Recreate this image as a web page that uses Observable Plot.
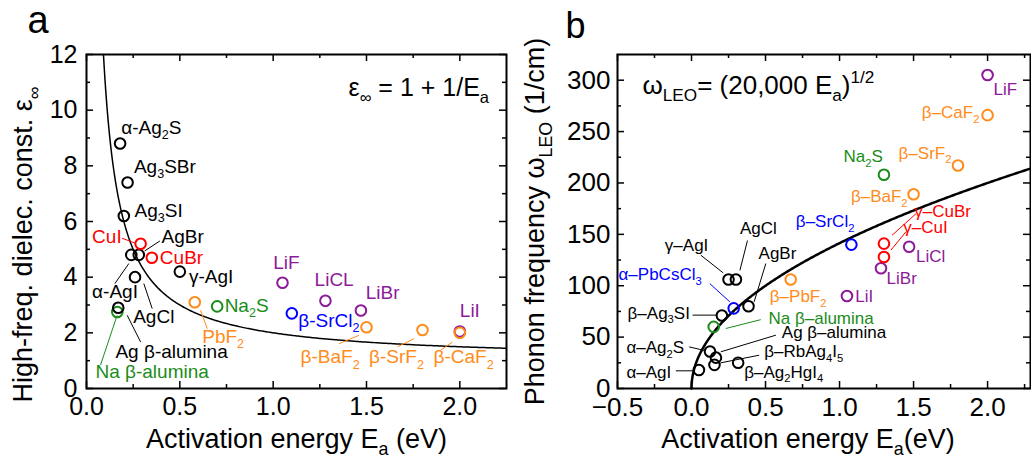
<!DOCTYPE html>
<html>
<head>
<meta charset="utf-8">
<script src="https://cdn.jsdelivr.net/npm/d3@7"></script>
<script src="https://cdn.jsdelivr.net/npm/@observablehq/plot@0.6"></script>
<style>
  html, body { margin: 0; padding: 0; background: white; }
  #wrap { position: relative; width: 1031px; height: 461px; overflow: hidden; background: white; }
  #pa { position: absolute; left: 0; top: 0; }
  #pb { position: absolute; left: 510px; top: 0; }
</style>
</head>
<body>
<div id="wrap"><div id="pa"></div><div id="pb"></div></div>
<script>
// ---------- groups / colours ----------
const groups = ["Ag", "Cu", "Na", "F", "Cl", "Li"];
const groupColors = ["#000000", "#ff0000", "#1a8c1a", "#ff8c1a", "#0000ff", "#8c1a99"];

// ---------- panel a data ----------
const matA = ["α-Ag_2S","Ag_3SBr","Ag_3SI","α-AgI","AgBr","AgCl","γ-AgI","Na β-alumina","Ag β-alumina","CuI","CuBr","Na_2S","PbF_2","β-BaF_2","β-SrF_2","LiI","β-CaF_2","β-SrCl_2","LiF","LiCL","LiBr"];
const eaA  = [0.18, 0.22, 0.20, 0.24, 0.28, 0.26, 0.50, 0.165, 0.17, 0.29, 0.35, 0.70, 0.58, 1.50, 1.80, 2.00, 2.00, 1.10, 1.05, 1.28, 1.47];
const epsA = [8.8, 7.4, 6.2, 4.8, 4.8, 4.0, 4.2, 2.75, 2.9, 5.2, 4.7, 2.95, 3.1, 2.2, 2.1, 2.05, 2.0, 2.7, 3.8, 3.15, 2.8];
const grpA = ["Ag","Ag","Ag","Ag","Ag","Ag","Ag","Na","Ag","Cu","Cu","Na","F","F","F","Li","F","Cl","Li","Li","Li"];
// label anchor (text start, baseline) in data units
const labAx = [0.186, 0.254, 0.257, 0.03, 0.402, 0.25, 0.549, 0.048, 0.155, 0.03, 0.393, 0.74, 0.62, 1.147, 1.514, 2.0, 1.859, 1.135, 1.0, 1.222, 1.496];
const labAy = [9.15, 7.74, 6.16, 3.25, 5.23, 2.36, 3.79, 0.36, 1.08, 5.23, 4.49, 2.75, 1.64, 0.9, 0.9, 2.57, 0.9, 2.21, 4.31, 3.67, 3.23];
// leader lines
const leadAgrp = ["Cu","Ag","Ag","Ag","Ag","Na","F","F","F","F"];
const leadAx1 = [0.19, 0.393, 0.152, 0.352, 0.29, 0.075, 0.647, 1.353, 1.666, 1.898];
const leadAy1 = [5.40, 5.30, 3.77, 2.87, 1.67, 0.84, 2.15, 1.61, 1.50, 1.38];
const leadAx2 = [0.262, 0.311, 0.227, 0.307, 0.218, 0.164, 0.611, 1.46, 1.755, 1.96];
const leadAy2 = [5.22, 4.94, 4.49, 3.77, 2.63, 2.63, 2.81, 1.91, 1.79, 1.67];

// ---------- panel b data ----------
const matB = ["α–AgI","α–Ag_2S","β–RbAg_4I_5","Ag β–alumina","β–Ag_2HgI_4","Na β–alumina","β–Ag_3SI","α–PbCsCl_3","AgBr","γ–AgI","AgCl","β–PbF_2","LiI","β–SrCl_2","LiBr","γ–CuI","γ–CuBr","LiCl","β–BaF_2","Na_2S","β–SrF_2","β–CaF_2","LiF"];
const eaB    = [0.05, 0.125, 0.155, 0.165, 0.315, 0.15, 0.205, 0.285, 0.385, 0.25, 0.30, 0.67, 1.05, 1.08, 1.28, 1.30, 1.30, 1.47, 1.50, 1.30, 1.80, 2.00, 2.00];
const omegaB = [18, 36, 23, 30, 25, 60, 71, 78, 80, 106, 106, 106, 90, 140, 117, 128, 141, 138, 189, 208, 217, 266, 305];
const grpB = ["Ag","Ag","Ag","Ag","Ag","Na","Ag","Cl","Ag","Ag","Ag","F","Li","Cl","Li","Cu","Cu","Li","F","Na","F","F","Li"];
const labBx = [-0.44, -0.44, 0.491, 0.61, 0.356, 0.52, -0.432, -0.493, 0.453, -0.18, 0.327, 0.529, 1.106, 0.705, 1.318, 1.43, 1.505, 1.516, 1.077, 1.027, 1.399, 1.556, 2.04];
const labBy = [10.7, 34.7, 30.2, 48.7, 10.7, 62.6, 68, 105.4, 125.9, 134, 150.8, 84.3, 84.3, 157, 101.5, 151.5, 167, 123, 181.6, 220.6, 223.8, 263, 285.4];
const leadBgrp = ["Cu","Cu","Ag","Ag","Ag","Cl","Ag","Na","Ag","Ag","Ag","Ag"];
const leadBx1 = [1.516, 1.448, 0.378, 0.063, 0.502, 0.124, 0.007, 0.468, 0.57, -0.016, 0.457, -0.106];
const leadBy1 = [170, 152.4, 144, 129.7, 121.6, 102, 71.4, 67, 51.9, 40.5, 32.4, 17.2];
const leadBx2 = [1.354, 1.347, 0.327, 0.214, 0.423, 0.259, 0.176, 0.232, 0.198, 0.097, 0.198, 0.014];
const leadBy2 = [149, 134.6, 115, 112.5, 84.3, 84.3, 71.4, 58.4, 35.7, 36.7, 25, 17.2];

// ---------- ticks ----------
const xMajorA = [0, 0.5, 1, 1.5, 2];
const xMinorA = [0.25, 0.75, 1.25, 1.75];
const yMajorA = [0, 2, 4, 6, 8, 10, 12];
const yMinorA = [1, 3, 5, 7, 9, 11];
const xMajorB = [-0.5, 0, 0.5, 1, 1.5, 2];
const xMinorB = [-0.25, 0.25, 0.75, 1.25, 1.75, 2.25];
const yMajorB = [0, 50, 100, 150, 200, 250, 300];
const yMinorB = [25, 75, 125, 175, 225, 275];

// model curves drawn from the formulas printed on the chart
const curveA = d3.range(0, 401).map(i => { const x = 1/11 + (2.25 - 1/11) * Math.pow(i/400, 2); return {x, y: 1 + 1/x}; });
const curveB = d3.range(0, 401).map(i => { const x = 2.29 * Math.pow(i/400, 2); return {x, y: Math.sqrt(20000 * x)}; });

const FONT = "'Liberation Sans', Arial, Helvetica, sans-serif";
const MAJ = 7, MIN = 4;

function frameTicks(W, H, xMaj, xMin, yMaj, yMin) {
  const o = {stroke: "black", strokeWidth: 1.5};
  return [
    Plot.tickX(xMaj, {x: d => d, insetTop: H - MAJ, ...o}),
    Plot.tickX(xMin, {x: d => d, insetTop: H - MIN, ...o}),
    Plot.tickX(xMaj, {x: d => d, insetBottom: H - MAJ, ...o}),
    Plot.tickX(xMin, {x: d => d, insetBottom: H - MIN, ...o}),
    Plot.tickY(yMaj, {y: d => d, insetRight: W - MAJ, ...o}),
    Plot.tickY(yMin, {y: d => d, insetRight: W - MIN, ...o}),
    Plot.tickY(yMaj, {y: d => d, insetLeft: W - MAJ, ...o}),
    Plot.tickY(yMin, {y: d => d, insetLeft: W - MIN, ...o})
  ];
}

const idxA = d3.range(matA.length);
const idxLA = d3.range(leadAgrp.length);
const idxB = d3.range(matB.length);
const idxLB = d3.range(leadBgrp.length);

// ---------- panel a ----------
const A = {w: 510, h: 461, ml: 86, mr: 4, mt: 54, mb: 73};
const plotA = Plot.plot({
  width: A.w, height: A.h,
  marginLeft: A.ml, marginRight: A.mr, marginTop: A.mt, marginBottom: A.mb,
  x: {domain: [0, 2.25]},
  y: {domain: [0, 12]},
  color: {domain: groups, range: groupColors},
  style: {fontFamily: FONT, fontSize: "25px", background: "transparent", color: "black", overflow: "visible"},
  marks: [
    ...frameTicks(A.w - A.ml - A.mr, A.h - A.mt - A.mb, xMajorA, xMinorA, yMajorA, yMinorA),
    Plot.axisX(xMajorA, {tickSize: 0, tickPadding: 9, tickFormat: d3.format(".1f"), label: null, fontSize: 25}),
    Plot.axisY(yMajorA, {tickSize: 0, tickPadding: 9, label: null, fontSize: 25}),
    Plot.line(curveA, {x: "x", y: "y", stroke: "black", strokeWidth: 1.5}),
    Plot.link(idxLA, {x1: i => leadAx1[i], y1: i => leadAy1[i], x2: i => leadAx2[i], y2: i => leadAy2[i], stroke: i => leadAgrp[i], strokeWidth: 1}),
    Plot.dot(idxA, {x: i => eaA[i], y: i => epsA[i], stroke: i => grpA[i], r: 5.3, strokeWidth: 2, fill: "none"}),
    Plot.text(idxA, {x: i => labAx[i], y: i => labAy[i], text: i => matA[i], fill: i => grpA[i], textAnchor: "start", lineAnchor: "bottom", fontSize: 19}),
    Plot.frame({stroke: "black", strokeWidth: 2}),
    Plot.text(["ε_∞ = 1 + 1/E_a"], {frameAnchor: "top-left", text: d => d, dx: 262, dy: 41, textAnchor: "start", lineAnchor: "bottom", fontSize: 25}),
    Plot.text(["a"], {frameAnchor: "top-left", text: d => d, dx: -59, dy: -22, textAnchor: "start", lineAnchor: "bottom", fontSize: 38}),
    Plot.text(["Activation energy E_a (eV)"], {frameAnchor: "bottom", text: d => d, dy: 59, lineAnchor: "bottom", fontSize: 27}),
    Plot.text(["High-freq. dielec. const. ε_∞"], {frameAnchor: "left", text: d => d, rotate: -90, dx: -63, dy: 23, textAnchor: "middle", lineAnchor: "middle", fontSize: 27})
  ]
});

// ---------- panel b ----------
const B = {w: 521, h: 461, ml: 107, mr: 1, mt: 54, mb: 73};
const plotB = Plot.plot({
  width: B.w, height: B.h,
  marginLeft: B.ml, marginRight: B.mr, marginTop: B.mt, marginBottom: B.mb,
  x: {domain: [-0.5, 2.29]},
  y: {domain: [0, 325]},
  color: {domain: groups, range: groupColors},
  style: {fontFamily: FONT, fontSize: "26px", background: "transparent", color: "black", overflow: "visible"},
  marks: [
    ...frameTicks(B.w - B.ml - B.mr, B.h - B.mt - B.mb, xMajorB, xMinorB, yMajorB, yMinorB),
    Plot.axisX(xMajorB, {tickSize: 0, tickPadding: 9, tickFormat: d3.format(".1f"), label: null, fontSize: 26}),
    Plot.axisY(yMajorB, {tickSize: 0, tickPadding: 7, label: null, fontSize: 26}),
    Plot.line(curveB, {x: "x", y: "y", stroke: "black", strokeWidth: 2.5}),
    Plot.link(idxLB, {x1: i => leadBx1[i], y1: i => leadBy1[i], x2: i => leadBx2[i], y2: i => leadBy2[i], stroke: i => leadBgrp[i], strokeWidth: 1}),
    Plot.dot(idxB, {x: i => eaB[i], y: i => omegaB[i], stroke: i => grpB[i], r: 5.3, strokeWidth: 2, fill: "none"}),
    Plot.text(idxB, {x: i => labBx[i], y: i => labBy[i], text: i => matB[i], fill: i => grpB[i], textAnchor: "start", lineAnchor: "bottom", fontSize: 17}),
    Plot.frame({stroke: "black", strokeWidth: 2}),
    Plot.text(["ω_{LEO}= (20,000 E_a)^{1/2}"], {frameAnchor: "top-left", text: d => d, dx: 25, dy: 39, textAnchor: "start", lineAnchor: "bottom", fontSize: 26}),
    Plot.text(["b"], {frameAnchor: "top-left", text: d => d, dx: -52, dy: -17, textAnchor: "start", lineAnchor: "bottom", fontSize: 36}),
    Plot.text(["Activation energy E_a(eV)"], {frameAnchor: "bottom", text: d => d, dx: -16, dy: 59, lineAnchor: "bottom", fontSize: 27}),
    Plot.text(["Phonon frequency ω_{LEO} (1/cm)"], {frameAnchor: "left", text: d => d, rotate: -90, dx: -82, dy: 0, textAnchor: "middle", lineAnchor: "middle", fontSize: 27})
  ]
});

document.getElementById("pa").appendChild(plotA);
document.getElementById("pb").appendChild(plotB);

// sub/superscript markup: _x, _{xx}, ^x, ^{xx}
function richify(svg) {
  const NS = "http://www.w3.org/2000/svg";
  svg.querySelectorAll("text").forEach(t => {
    const tspans = t.querySelectorAll("tspan");
    const leaves = tspans.length ? Array.from(tspans) : [t];
    leaves.forEach(el => {
      const s = el.textContent;
      if (!/[_^]/.test(s)) return;
      const fs = parseFloat(getComputedStyle(el).fontSize) || 16;
      while (el.firstChild) el.removeChild(el.firstChild);
      let shift = 0;
      const add = (str, kind) => {
        if (!str) return;
        const ts = document.createElementNS(NS, "tspan");
        const target = kind === "sub" ? 0.28 * fs : kind === "sup" ? -0.42 * fs : 0;
        if (target !== shift) ts.setAttribute("dy", (target - shift).toFixed(2));
        shift = target;
        if (kind) ts.setAttribute("font-size", (0.66 * fs).toFixed(2));
        ts.textContent = str;
        el.appendChild(ts);
      };
      const re = /([_^])(\{[^}]*\}|.)/gu;
      let last = 0, m;
      while ((m = re.exec(s))) {
        add(s.slice(last, m.index), null);
        let c = m[2];
        if (c[0] === "{") c = c.slice(1, -1);
        add(c, m[1] === "_" ? "sub" : "sup");
        last = re.lastIndex;
      }
      add(s.slice(last), null);
    });
  });
}
richify(plotA);
richify(plotB);
</script>
</body>
</html>
